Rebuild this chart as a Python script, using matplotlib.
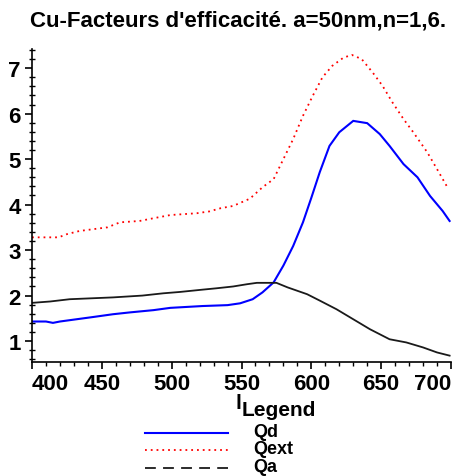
import matplotlib
matplotlib.use("Agg")
import matplotlib.pyplot as plt
from matplotlib.lines import Line2D
from matplotlib.ticker import MultipleLocator

# ---- data ----
lam_qext = [400, 419, 425, 434, 454, 463, 477, 487, 499, 518, 527, 535, 544, 556,
            565, 573, 580, 587, 594, 601, 608, 615, 623, 629, 636, 644, 651, 658,
            666, 673, 683, 690, 698]
qext = [3.28, 3.28, 3.35, 3.42, 3.50, 3.61, 3.64, 3.70, 3.77, 3.81, 3.85, 3.92, 3.97, 4.13,
        4.38, 4.56, 5.00, 5.44, 5.95, 6.39, 6.80, 7.05, 7.23, 7.29, 7.20, 6.90, 6.61, 6.25,
        5.88, 5.59, 5.15, 4.78, 4.35]

lam_qd = [400, 410, 415, 420, 432, 444, 458, 470, 487, 499, 522, 540, 549, 558, 565,
          573, 580, 587, 594, 600, 606, 613, 620, 630, 640, 649, 656, 666, 676, 685,
          694, 699]
qd = [1.43, 1.43, 1.40, 1.43, 1.48, 1.53, 1.59, 1.63, 1.68, 1.73, 1.77, 1.79, 1.83, 1.92, 2.07,
      2.29, 2.66, 3.09, 3.61, 4.15, 4.71, 5.29, 5.59, 5.84, 5.79, 5.55, 5.29, 4.89, 4.60, 4.19,
      3.86, 3.64]

lam_qa = [400, 413, 427, 458, 479, 494, 506, 522, 532, 544, 554, 561, 575, 583, 597,
          606, 618, 630, 642, 656, 668, 680, 690, 699]
qa = [1.84, 1.87, 1.92, 1.96, 2.00, 2.05, 2.08, 2.13, 2.16, 2.20, 2.25, 2.28, 2.28, 2.18, 2.03,
      1.89, 1.70, 1.48, 1.26, 1.04, 0.97, 0.86, 0.75, 0.68]

series_labels = ["Qd", "Qext", "Qa"]
x_ticks = [400, 450, 500, 550, 600, 650, 700]
y_ticks = [1, 2, 3, 4, 5, 6, 7]
title = "Cu-Facteurs d'efficacité. a=50nm,n=1,6."

# ---- figure ----
W, H = 470, 477
fig = plt.figure(figsize=(W / 100, H / 100), dpi=100)

def fx(px):
    return px / W

def fy(py):
    return 1 - py / H

ax = fig.add_axes([fx(32), fy(363), fx(451) - fx(32), fy(50) - fy(363)])

ax.plot(lam_qd, qd, color="#0000ff", lw=1.5, solid_joinstyle="miter")
ax.plot(lam_qext, qext, color="#ff0000", lw=1.3, linestyle=(0, (1, 2.2)))
ax.plot(lam_qa, qa, color="#1a1a1a", lw=1.3)

ax.set_xlim(400, 700)
ax.set_ylim(0.54, 7.42)
ax.spines["top"].set_visible(False)
ax.spines["right"].set_visible(False)
for s in ("left", "bottom"):
    ax.spines[s].set_linewidth(1.2)

ax.set_xticks(x_ticks)
ax.set_yticks(y_ticks)
ax.xaxis.set_minor_locator(MultipleLocator(10))
ax.yaxis.set_minor_locator(MultipleLocator(0.2))
ax.tick_params(which="major", direction="out", length=5, width=1.2, pad=3)
ax.tick_params(axis="y", which="minor", direction="inout", length=4, width=1.0)
ax.tick_params(axis="x", which="minor", direction="out", length=3, width=1.0)

tick_font = dict(family=["Liberation Sans", "DejaVu Sans"], weight="bold", size=16)
ax.set_xticklabels([str(t) for t in x_ticks], **tick_font)
ax.set_yticklabels([str(t) for t in y_ticks], **tick_font)
ax.get_xticklabels()[0].set_ha("left")
ax.get_xticklabels()[-1].set_ha("right")

fig.text(fx(238), fy(21), title, ha="center", va="center",
         family=["Liberation Sans Narrow", "Liberation Sans", "DejaVu Sans"],
         weight="bold", size=16)

# axis label partially hidden under the legend title
fig.text(fx(238), fy(404), "l", ha="center", va="center",
         family=["Liberation Sans", "DejaVu Sans"], weight="bold", size=15)

# legend drawn manually
leg_font = dict(family=["Liberation Sans", "DejaVu Sans"], weight="bold", size=13)
fig.text(fx(242), fy(411), "Legend", ha="left", va="center",
         family=["Liberation Sans", "DejaVu Sans"], weight="bold", size=15)
handle_styles = [
    dict(color="#0000ff", lw=1.5, linestyle="-"),
    dict(color="#ff0000", lw=1.3, linestyle=(0, (1, 2.2))),
    dict(color="#1a1a1a", lw=1.3, linestyle=(0, (6, 4))),
]
ys = [434, 451, 469]
for lab, st, yy in zip(series_labels, handle_styles, ys):
    fig.add_artist(Line2D([fx(145), fx(228)], [fy(yy), fy(yy)],
                          transform=fig.transFigure, **st))
    fig.text(fx(253), fy(yy - 1), lab, ha="left", va="center", **leg_font)

fig.savefig("out.png", dpi=100)
